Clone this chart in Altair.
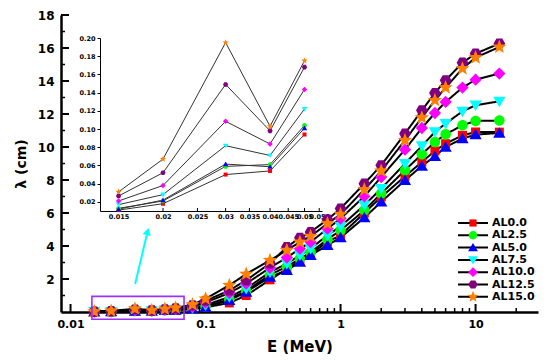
import math
import altair as alt
import pandas as pd

# ---------------- data ----------------
series = ["AL0.0", "AL2.5", "AL5.0", "AL7.5", "AL10.0", "AL12.5", "AL15.0"]
colors = ["#FF0000", "#00FF00", "#0000FF", "#00FFFF", "#FF00FF", "#800080", "#FF8000"]

energy = [0.015, 0.02, 0.03, 0.04, 0.05, 0.06, 0.08, 0.1, 0.15, 0.2, 0.3, 0.4, 0.5,
          0.6, 0.8, 1, 1.5, 2, 3, 4, 5, 6, 8, 10, 15]

al00 = [0.011, 0.018, 0.050, 0.054, 0.094, 0.11, 0.18, 0.28, 0.55, 1.00, 1.95, 2.60, 3.10,
        3.50, 4.25, 4.65, 6.00, 6.97, 8.22, 9.09, 9.76, 10.20, 10.71, 10.91, 10.90]
al25 = [0.013, 0.021, 0.059, 0.061, 0.104, 0.13, 0.21, 0.33, 0.78, 1.28, 2.25, 2.75, 3.22,
        3.62, 4.40, 4.95, 6.16, 7.18, 8.59, 9.56, 10.30, 10.77, 11.32, 11.58, 11.60]
al50 = [0.012, 0.022, 0.0615, 0.0586, 0.101, 0.12, 0.19, 0.30, 0.71, 1.21, 2.12, 2.53, 3.03,
        3.44, 4.04, 4.51, 5.72, 6.67, 7.98, 8.85, 9.44, 10.00, 10.51, 10.75, 10.85]
al75 = [0.017, 0.028, 0.0817, 0.071, 0.122, 0.15, 0.25, 0.42, 0.91, 1.42, 2.42, 2.93, 3.44,
        3.84, 4.65, 5.19, 6.47, 7.48, 8.99, 10.06, 10.91, 11.42, 12.16, 12.53, 12.77]
al100 = [0.021, 0.038, 0.1085, 0.0836, 0.1435, 0.18, 0.32, 0.58, 1.15, 1.72, 2.68, 3.30, 3.84,
         4.24, 5.05, 5.66, 7.01, 8.18, 9.84, 11.15, 12.06, 12.73, 13.60, 14.08, 14.45]
al125 = [0.0265, 0.052, 0.149, 0.098, 0.168, 0.22, 0.40, 0.68, 1.31, 1.92, 2.95, 3.94, 4.50,
         4.85, 5.60, 6.27, 7.78, 8.89, 10.81, 12.22, 13.27, 14.04, 15.11, 15.66, 16.27]
al150 = [0.031, 0.067, 0.195, 0.103, 0.175, 0.25, 0.45, 0.80, 1.62, 2.30, 3.13, 3.74, 4.24,
         4.59, 5.36, 5.92, 7.42, 8.55, 10.41, 11.78, 12.83, 13.60, 14.75, 15.42, 16.06]
values = [al00, al25, al50, al75, al100, al125, al150]

inset_count = 5  # first five energies are shown in the inset

# axis ticks / labels
x_major = [0.01, 0.1, 1, 10]
x_minor = [0.02, 0.03, 0.04, 0.05, 0.06, 0.07, 0.08, 0.09,
           0.2, 0.3, 0.4, 0.5, 0.6, 0.7, 0.8, 0.9,
           2, 3, 4, 5, 6, 7, 8, 9, 20]
y_major = [2, 4, 6, 8, 10, 12, 14, 16, 18]
y_minor = [1, 3, 5, 7, 9, 11, 13, 15, 17]
inset_x_ticks = [0.015, 0.02, 0.025, 0.03, 0.035, 0.04, 0.045, 0.05, 0.055]
inset_y_ticks = [0.02, 0.04, 0.06, 0.08, 0.10, 0.12, 0.14, 0.16, 0.18, 0.20]

# annotations (zoom box and arrow), in data units
box_E = [0.0144, 0.0693]
box_lam = [-0.44, 0.95]
arrow_E = [0.0301, 0.0372]
arrow_lam = [1.70, 4.88]

# ---------------- frames ----------------
rows = []
for s, vals in zip(series, values):
    for e, v in zip(energy, vals):
        rows.append({"series": s, "grp": s, "E": e, "lam": v})
df = pd.DataFrame(rows)
df_in = df[df["E"] <= energy[inset_count - 1] + 1e-9]

# ---------------- shapes ----------------
def star_path(ro=1.0, ri=0.43):
    pts = []
    for k in range(10):
        a = math.radians(-90 + 36 * k)
        r = ro if k % 2 == 0 else ri
        pts.append(f"{r*math.cos(a):.3f},{r*math.sin(a):.3f}")
    return "M" + "L".join(pts) + "Z"

def hex_path(r=0.78):
    pts = []
    for k in range(6):
        a = math.radians(60 * k)
        pts.append(f"{r*math.cos(a):.3f},{r*math.sin(a):.3f}")
    return "M" + "L".join(pts) + "Z"

shapes = [
    "M-0.6,-0.6H0.6V0.6H-0.6Z",
    "M0.7,0A0.7,0.7,0,1,1,-0.7,0A0.7,0.7,0,1,1,0.7,0Z",
    "M0,-0.78L0.82,0.62L-0.82,0.62Z",
    "M0,0.78L0.82,-0.62L-0.82,-0.62Z",
    "M0,-0.82L0.82,0L0,0.82L-0.82,0Z",
    hex_path(),
    star_path(),
]

# ---------------- layout ----------------
W, H = 477, 297
FONT = "DejaVu Sans"

xscale = alt.Scale(type="log", domain=[0.0085, 29], nice=False)
yscale = alt.Scale(domain=[0, 18], nice=False, zero=False)

xaxis = alt.Axis(values=x_major, format="~g", title="E (MeV)", ticks=False, grid=False,
                 domainColor="black", domainWidth=2.5, labelFont=FONT, labelFontWeight="bold",
                 labelFontSize=11, labelColor="black", labelPadding=6, labelFlush=False,
                 labelOverlap=False, titleFont=FONT, titleFontWeight="bold", titleFontSize=15,
                 titleColor="black", titlePadding=10, orient="bottom")
yaxis = alt.Axis(values=y_major, format="d", title="λ (cm)", ticks=False, grid=False,
                 domainColor="black", domainWidth=2.5, labelFont=FONT, labelFontWeight="bold",
                 labelFontSize=12, labelColor="black", labelPadding=7, labelFlush=False,
                 titleFont=FONT, titleFontWeight="bold", titleFontSize=14, titleColor="black",
                 titlePadding=9, orient="left")

def X(field):
    return alt.X(f"{field}:Q", scale=xscale, axis=xaxis)

def Y(field):
    return alt.Y(f"{field}:Q", scale=yscale, axis=yaxis)

LEG_X, LEG_Y = 406, 202
ROW_PAD = 1.3
legend_lines = alt.Legend(orient="none", legendX=LEG_X, legendY=LEG_Y, title=None, padding=0,
                          symbolType="M-3,0H3", symbolSize=100, symbolStrokeColor="black",
                          symbolStrokeWidth=2, symbolFillColor="transparent", symbolOffset=0,
                          symbolDash=[1, 0],
                          labelFont=FONT, labelFontWeight="bold", labelFontSize=11,
                          labelColor="black", labelOffset=13, rowPadding=ROW_PAD, zindex=1)
legend_pts = alt.Legend(orient="none", legendX=LEG_X, legendY=LEG_Y, title=None, padding=0,
                        symbolSize=144, symbolStrokeWidth=0, symbolOffset=0, symbolOpacity=1,
                        labelFont=FONT, labelFontWeight="bold", labelFontSize=11,
                        labelExpr="''", labelOffset=13, rowPadding=ROW_PAD, zindex=2)

color_enc = alt.Color("series:N", scale=alt.Scale(domain=series, range=colors), legend=legend_pts)
shape_enc = alt.Shape("series:N", scale=alt.Scale(domain=series, range=shapes), legend=legend_pts)

# ---------------- main plot ----------------
base = alt.Chart(df)

xt_major = alt.Chart(pd.DataFrame({"E": x_major})).mark_rule(color="black", strokeWidth=2).encode(
    x=X("E"), y=alt.value(H), y2=alt.value(H - 8))
xt_minor = alt.Chart(pd.DataFrame({"E": x_minor})).mark_rule(color="black", strokeWidth=1.5).encode(
    x=X("E"), y=alt.value(H), y2=alt.value(H - 4))
yt_major = alt.Chart(pd.DataFrame({"lam": y_major})).mark_rule(color="black", strokeWidth=2).encode(
    y=Y("lam"), x=alt.value(0), x2=alt.value(8))
yt_minor = alt.Chart(pd.DataFrame({"lam": y_minor})).mark_rule(color="black", strokeWidth=1.5).encode(
    y=Y("lam"), x=alt.value(0), x2=alt.value(4))

lines = base.mark_line(color="black", strokeWidth=2).encode(
    x=X("E"), y=Y("lam"),
    strokeDash=alt.StrokeDash("grp:N", sort=series,
                              scale=alt.Scale(range=[[1, 0]] * len(series)),
                              legend=legend_lines),
)
points = base.mark_point(filled=True, opacity=1, size=225, strokeWidth=0).encode(
    x=X("E"), y=Y("lam"), color=color_enc, shape=shape_enc)

box = alt.Chart(pd.DataFrame({"E0": [box_E[0]], "E1": [box_E[1]],
                              "l0": [box_lam[0]], "l1": [box_lam[1]]})).mark_rect(
    fillOpacity=0, stroke="#9B30FF", strokeWidth=1.6).encode(
    x=X("E0"), x2="E1", y=Y("l0"), y2="l1")

arrow_line = alt.Chart(pd.DataFrame({"E0": [arrow_E[0]], "E1": [arrow_E[1]],
                                     "l0": [arrow_lam[0]], "l1": [arrow_lam[1]]})).mark_rule(
    color="#00FFFF", strokeWidth=2).encode(x=X("E0"), x2="E1", y=Y("l0"), y2="l1")
arrow_head = alt.Chart(pd.DataFrame({"E": [arrow_E[1]], "lam": [arrow_lam[1]]})).mark_point(
    shape="triangle-up", filled=True, opacity=1, size=70, angle=13, color="#00FFFF").encode(
    x=X("E"), y=Y("lam"))

main = alt.layer(xt_major, xt_minor, yt_major, yt_minor, lines, points, box, arrow_line, arrow_head)

# ---------------- inset ----------------
IX0, IX1 = 39, 261
IY0, IY1 = 196, 23
ixscale = alt.Scale(type="log", domain=[0.0133, 0.056], range=[IX0, IX1], nice=False)
iyscale = alt.Scale(domain=[0.01, 0.20], range=[IY0, IY1], nice=False, zero=False)
ixaxis = alt.Axis(values=inset_x_ticks, format="~g", title=None, ticks=False, grid=False,
                  domainColor="black", domainWidth=1, labelFont=FONT, labelFontWeight="bold",
                  labelFontSize=6.5, labelColor="black", labelPadding=2, labelFlush=False,
                  labelOverlap=False, orient="bottom", offset=IY0 - H)
iyaxis = alt.Axis(values=inset_y_ticks, format=".2f", title=None, ticks=True, tickSize=3,
                  tickColor="black", grid=False, domainColor="black", domainWidth=1,
                  labelFont=FONT, labelFontWeight="bold", labelFontSize=6.5, labelColor="black",
                  labelPadding=2, labelFlush=False, labelOverlap=False, orient="left",
                  offset=-IX0)

def IX(field):
    return alt.X(f"{field}:Q", scale=ixscale, axis=ixaxis)

def IY(field):
    return alt.Y(f"{field}:Q", scale=iyscale, axis=iyaxis)

ibase = alt.Chart(df_in)
i_ticks = alt.Chart(pd.DataFrame({"E": inset_x_ticks})).mark_rule(color="black", strokeWidth=1).encode(
    x=IX("E"), y=alt.value(IY0), y2=alt.value(IY0 - 3))
i_lines = ibase.mark_line(color="#333333", strokeWidth=1).encode(
    x=IX("E"), y=IY("lam"), detail="series:N")
i_points = ibase.mark_point(filled=True, opacity=1, size=45, strokeWidth=0).encode(
    x=IX("E"), y=IY("lam"), color=color_enc, shape=shape_enc)

inset = alt.layer(i_ticks, i_lines, i_points)

chart = alt.layer(main, inset).resolve_scale(x="independent", y="independent").properties(
    width=W, height=H, autosize="none",
    padding={"left": 53, "top": 7, "right": 4, "bottom": 42},
).configure_view(stroke="transparent")

chart.save("out.html", embed_options={"renderer": "svg", "actions": False})
